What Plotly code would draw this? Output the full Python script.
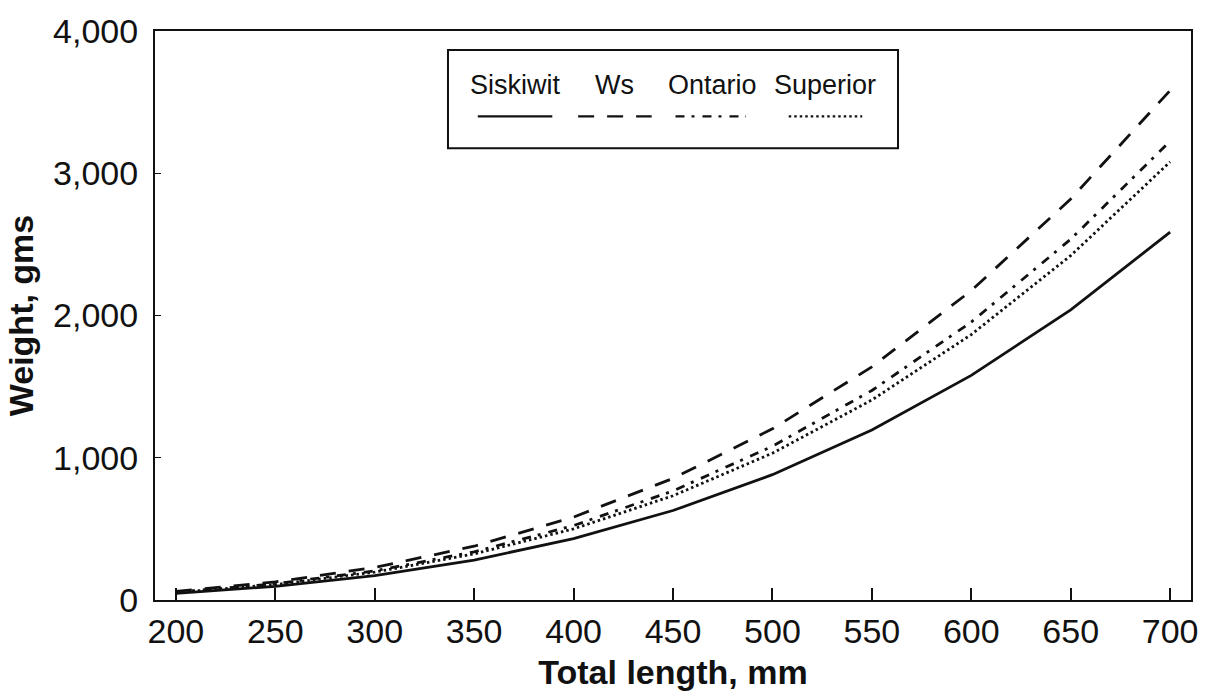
import plotly.graph_objects as go

# Total length (mm) and fitted weight (g) for each length-weight relation
length_mm = [200, 250, 300, 350, 400, 450, 500, 550, 600, 650, 700]
siskiwit = [47, 96, 172, 281, 431, 629, 881, 1195, 1579, 2040, 2586]
ws = [61, 127, 229, 378, 583, 855, 1203, 1639, 2175, 2819, 3582]
ontario = [55, 114, 205, 339, 523, 767, 1081, 1473, 1954, 2536, 3226]
superior = [53, 108, 196, 324, 500, 733, 1032, 1406, 1866, 2421, 3080]

series_names = ["Siskiwit", "Ws", "Ontario", "Superior"]
series_values = [siskiwit, ws, ontario, superior]
series_dash = ["solid", "16px,13px", "9px,7px,3px,8px", "2.5px,3px"]

x_ticks = [200, 250, 300, 350, 400, 450, 500, 550, 600, 650, 700]
y_ticks = [0, 1000, 2000, 3000, 4000]
y_tick_text = ["0", "1,000", "2,000", "3,000", "4,000"]

FONT = "Liberation Sans, Arial, sans-serif"
INK = "#111111"

fig = go.Figure()
for name, vals, dash in zip(series_names, series_values, series_dash):
    fig.add_trace(go.Scatter(
        x=length_mm, y=vals, name=name, mode="lines",
        line=dict(color=INK, width=2.8, dash=dash),
        showlegend=False,
    ))

# Hand-built legend: names above line samples, inside a framed box
legend_x = [0.3477, 0.4434, 0.5384, 0.6471]      # label centres (paper)
sample_x = [(0.3116, 0.3835), (0.4084, 0.4794), (0.5024, 0.5705), (0.6117, 0.6826)]
shapes = [dict(type="rect", xref="paper", yref="paper",
               x0=0.2828, x1=0.7172, y0=0.7941, y1=0.9668,
               line=dict(color=INK, width=2), fillcolor="white", layer="above")]
annotations = []
for name, cx, (sx0, sx1), dash in zip(series_names, legend_x, sample_x, series_dash):
    annotations.append(dict(x=cx, y=0.9058, xref="paper", yref="paper",
                            text=name, showarrow=False,
                            font=dict(family=FONT, size=27, color=INK),
                            xanchor="center", yanchor="middle"))
    shapes.append(dict(type="line", xref="paper", yref="paper",
                       x0=sx0, x1=sx1, y0=0.8499, y1=0.8499, layer="above",
                       line=dict(color=INK, width=2.2, dash=dash)))

fig.update_layout(
    width=1210, height=697,
    margin=dict(l=155, r=12, t=29, b=95),
    paper_bgcolor="white", plot_bgcolor="white",
    font=dict(family=FONT, color=INK),
    shapes=shapes, annotations=annotations,
    showlegend=False,
)
fig.update_xaxes(
    range=[189.5, 710.5], tickvals=x_ticks,
    ticks="inside", ticklen=12, tickwidth=1.5, tickcolor=INK,
    showline=True, linecolor=INK, linewidth=2, mirror=True,
    showgrid=False, zeroline=False,
    tickfont=dict(family=FONT, size=34, color=INK),
    title=dict(text="<b>Total length, mm</b>", standoff=11,
               font=dict(family=FONT, size=34, color=INK)),
)
fig.update_yaxes(
    range=[0, 4000], tickvals=y_ticks, ticktext=y_tick_text,
    ticks="inside", ticklen=6, tickwidth=1.2, tickcolor=INK,
    showline=True, linecolor=INK, linewidth=2, mirror=True,
    showgrid=False, zeroline=False, ticklabelstandoff=8,
    tickfont=dict(family=FONT, size=34, color=INK),
    title=dict(text="<b>Weight, gms</b>", standoff=9,
               font=dict(family=FONT, size=34, color=INK)),
)

fig.write_html("out.html")
